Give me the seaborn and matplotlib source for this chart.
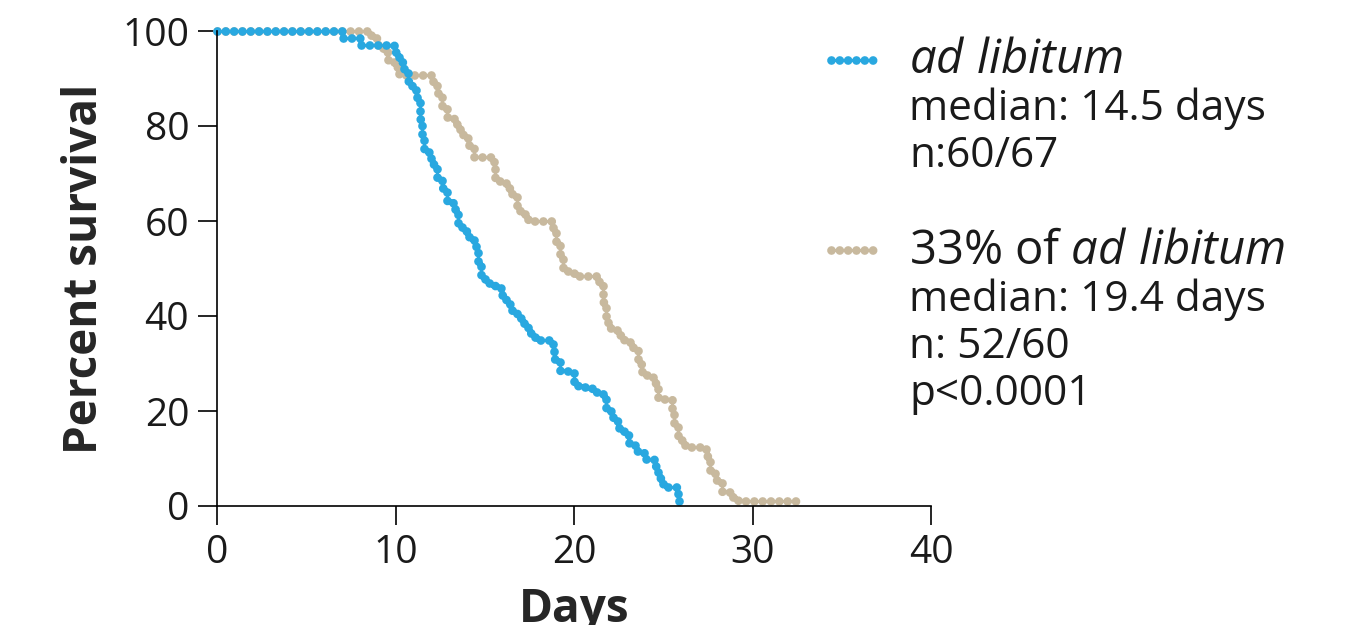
import matplotlib
matplotlib.use("Agg")
import matplotlib.pyplot as plt
import seaborn as sns
import pandas as pd
from matplotlib.lines import Line2D

# ---------------- data ----------------
series_names = ["ad libitum", "33% of ad libitum"]

adlib_days = [0, 7.0, 8.0, 9.9, 10.2, 10.5, 10.7, 10.9, 11.2, 11.4, 11.5, 11.6, 12.0,
              12.3, 12.6, 12.9, 13.2, 13.5, 13.7, 14.1, 14.5, 14.6, 14.8, 15.0, 15.6,
              15.9, 16.2, 16.5, 16.8, 17.2, 17.4, 17.8, 18.8, 18.9, 19.2, 20.0, 20.2,
              21.0, 21.6, 21.8, 22.2, 22.5, 22.8, 23.1, 23.4, 23.9, 24.5, 24.7, 25.0,
              25.8, 25.9]
adlib_surv = [100, 98.5, 97.0, 95.5, 93.5, 91.5, 89.5, 87.5, 85.5, 81.5, 78.0, 74.5, 72.0,
              69.0, 67.0, 64.0, 62.5, 59.5, 58.0, 56.0, 54.5, 51.0, 48.5, 47.0, 46.0,
              44.5, 42.5, 41.0, 39.5, 38.0, 36.5, 35.0, 33.5, 31.0, 28.5, 26.0, 25.0,
              24.0, 22.5, 20.0, 18.0, 16.5, 15.0, 13.0, 11.5, 10.0, 8.5, 6.0, 4.0,
              2.5, 0.0]

dr_days = [0, 8.6, 9.0, 9.3, 9.6, 9.9, 10.2, 12.1, 12.3, 12.6, 12.9, 13.3, 13.6, 13.8,
           14.1, 14.4, 15.5, 15.6, 16.2, 16.5, 16.8, 17.0, 17.4, 18.8, 19.0, 19.2, 19.4,
           20.0, 21.4, 21.6, 21.8, 21.9, 22.4, 22.8, 23.3, 23.6, 23.8, 24.4, 24.7, 25.5,
           25.6, 25.8, 26.2, 27.4, 27.6, 27.9, 28.3, 28.8, 29.2, 32.7]
dr_surv = [100, 98.5, 97.0, 95.5, 94.0, 92.5, 90.7, 89.0, 87.0, 84.0, 82.0, 80.5, 79.0, 77.5,
           75.5, 73.5, 71.0, 68.5, 67.0, 65.0, 63.0, 61.5, 60.0, 58.5, 55.5, 52.0, 49.5,
           48.5, 46.5, 43.0, 40.0, 37.5, 36.0, 34.5, 33.0, 30.0, 27.5, 26.0, 22.5, 20.5,
           17.0, 14.0, 12.5, 10.5, 7.0, 5.5, 3.0, 2.0, 1.0, 1.0]

x_ticks = [0, 10, 20, 30, 40]
y_ticks = [0, 20, 40, 60, 80, 100]

legend_lines_1 = ["ad libitum", "median: 14.5 days", "n:60/67"]
legend_lines_2 = ["33% of ad libitum", "median: 19.4 days", "n: 52/60", "p<0.0001"]

colors = {"ad libitum": "#29A8E0", "33% of ad libitum": "#C8B99E"}

# ---------------- style ----------------
sns.set_style("ticks")
plt.rcParams["font.family"] = ["Open Sans", "DejaVu Sans"]
plt.rcParams["mathtext.fontset"] = "custom"
plt.rcParams["mathtext.rm"] = "Open Sans"
plt.rcParams["mathtext.it"] = "Open Sans:italic"
plt.rcParams["text.color"] = "#1a1a1a"

fig = plt.figure(figsize=(13.49, 6.25), dpi=100)
ax = fig.add_axes([217 / 1349, 1 - 506 / 625, (931 - 217) / 1349, (506 - 31) / 625])

df = pd.concat([
    pd.DataFrame({"Days": dr_days, "Survival": dr_surv, "group": series_names[1]}),
    pd.DataFrame({"Days": adlib_days, "Survival": adlib_surv, "group": series_names[0]}),
])

LW = 6.3
dot_style = (0, (0.001, 0.95))
for name in [series_names[1], series_names[0]]:
    sub = df[df["group"] == name]
    sns.lineplot(data=sub, x="Days", y="Survival", ax=ax, color=colors[name],
                 drawstyle="steps-post", linestyle=dot_style, linewidth=LW,
                 dash_capstyle="round", clip_on=False, estimator=None, sort=False,
                 legend=False)

ax.set_xlim(0, 40)
ax.set_ylim(0, 100)
ax.set_xticks(x_ticks)
ax.set_yticks(y_ticks)
ax.set_xticklabels([str(v) for v in x_ticks])
ax.set_yticklabels([str(v) for v in y_ticks])
ax.tick_params(axis="both", direction="out", length=14, width=1.2, labelsize=28,
               pad=6, color="black", labelcolor="#1a1a1a")
for s in ["top", "right"]:
    ax.spines[s].set_visible(False)
for s in ["left", "bottom"]:
    ax.spines[s].set_linewidth(1.2)
    ax.spines[s].set_color("black")

ax.set_xlabel("Days", fontsize=33, fontweight="bold", labelpad=10)
ax.set_ylabel("Percent survival", fontsize=33, fontweight="bold", labelpad=10)

# ---------------- legend (manual) ----------------
W, H = 1349, 625
def fx(px):
    return px / W
def fy(py):
    return 1 - py / H

for name, ypx in [(series_names[0], 60), (series_names[1], 250)]:
    fig.add_artist(Line2D([fx(831), fx(877)], [fy(ypx), fy(ypx)], color=colors[name],
                          linestyle=dot_style, linewidth=LW, dash_capstyle="round"))

tx = fx(909)
HS, BS = 34, 30.5
fig.text(tx, fy(73), r"$\mathit{ad\ libitum}$", fontsize=HS, va="baseline", ha="left")
fig.text(tx, fy(120), legend_lines_1[1], fontsize=BS, va="baseline", ha="left")
fig.text(tx, fy(167), legend_lines_1[2], fontsize=BS, va="baseline", ha="left")

fig.text(tx, fy(264), r"33% of $\mathit{ad\ libitum}$", fontsize=HS, va="baseline", ha="left")
fig.text(tx, fy(311), legend_lines_2[1], fontsize=BS, va="baseline", ha="left")
fig.text(tx, fy(358), legend_lines_2[2], fontsize=BS, va="baseline", ha="left")
fig.text(tx, fy(405), legend_lines_2[3], fontsize=BS, va="baseline", ha="left")

fig.savefig("out.png", dpi=100)
